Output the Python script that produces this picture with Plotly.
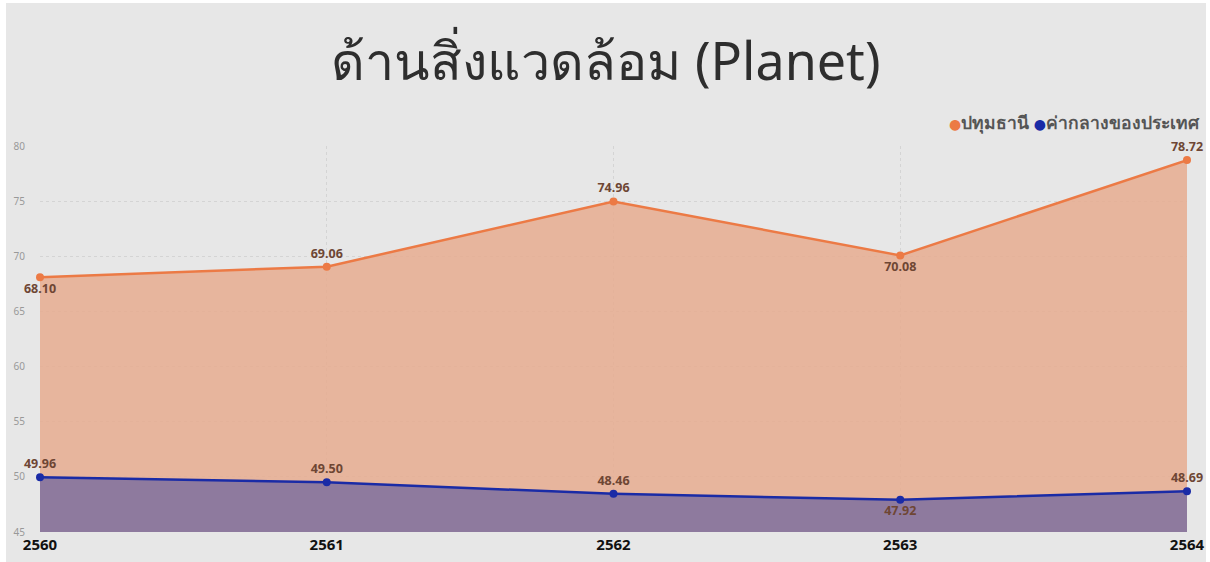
import plotly.graph_objects as go

years = [2560, 2561, 2562, 2563, 2564]
pathum = [68.10, 69.06, 74.96, 70.08, 78.72]
national = [49.96, 49.50, 48.46, 47.92, 48.69]
pathum_pos = ["bottom center", "top center", "top center", "bottom center", "top center"]
national_pos = ["top center", "top center", "top center", "bottom center", "top center"]
series_names = ["ปทุมธานี", "ค่ากลางของประเทศ"]
title_text = "ด้านสิ่งแวดล้อม (Planet)"

FONT = "Noto Sans, DejaVu Sans, sans-serif"
ORANGE = "#EC7A45"
BLUE = "#1A2BA6"
LABEL = "#6E4634"
W, H = 1200, 559

fig = go.Figure()
fig.add_trace(go.Scatter(
    x=years, y=pathum, name=series_names[0], mode="lines+markers+text",
    line=dict(color=ORANGE, width=2.5), marker=dict(size=8, color=ORANGE),
    fill="tozeroy", fillcolor="rgba(230,171,143,0.85)",
    text=[f"{v:.2f}" for v in pathum], textposition=pathum_pos,
    textfont=dict(family=FONT, size=12.5, color=LABEL, weight="bold"),
    cliponaxis=False, showlegend=False,
))
fig.add_trace(go.Scatter(
    x=years, y=national, name=series_names[1], mode="lines+markers+text",
    line=dict(color=BLUE, width=2.5), marker=dict(size=8, color=BLUE),
    fill="tozeroy", fillcolor="rgba(142,122,158,1)",
    text=[f"{v:.2f}" for v in national], textposition=national_pos,
    textfont=dict(family=FONT, size=12.5, color=LABEL, weight="bold"),
    cliponaxis=False, showlegend=False,
))

legend_text = " ".join(
    f"<span style='color:{c};font-size:14px'>●</span>{nm}" for nm, c in zip(series_names, [ORANGE, BLUE])
)
fig.add_annotation(
    text=legend_text, xref="paper", yref="paper",
    x=(1202 - 40) / (1187 - 40), xanchor="right",
    y=1 + (146 - 122) / (532 - 146), yanchor="middle", showarrow=False,
    font=dict(family=FONT, size=17.5, color="#555555", weight="bold"),
)

fig.update_layout(
    width=W, height=H, showlegend=False,
    paper_bgcolor="#E7E7E7", plot_bgcolor="#E7E7E7",
    margin=dict(l=34, r=19, t=143, b=30, autoexpand=False),
    title=dict(text=title_text, x=0.5, xanchor="center",
               y=1 - 59 / H, yanchor="middle", yref="container",
               font=dict(family=FONT, size=52, color="#2E2E2E")),
)
fig.update_xaxes(
    range=[2560, 2564], tickvals=years, ticktext=[str(y) for y in years],
    tickfont=dict(family=FONT, size=15, color="#111111", weight="bold"),
    showgrid=True, gridcolor="#D4D4D4", griddash="dot", zeroline=False,
    showline=False, ticks="", ticklabelstandoff=2, automargin=False,
)
fig.update_yaxes(
    range=[45, 80], dtick=5, tickfont=dict(family=FONT, size=10, color="#999999"),
    showgrid=True, gridcolor="#D4D4D4", griddash="dot", zeroline=False,
    showline=False, ticks="", ticklabelstandoff=14, automargin=False,
)

fig.write_html("out.html", post_script="document.body.style.margin='3px 0 0 6px';")
